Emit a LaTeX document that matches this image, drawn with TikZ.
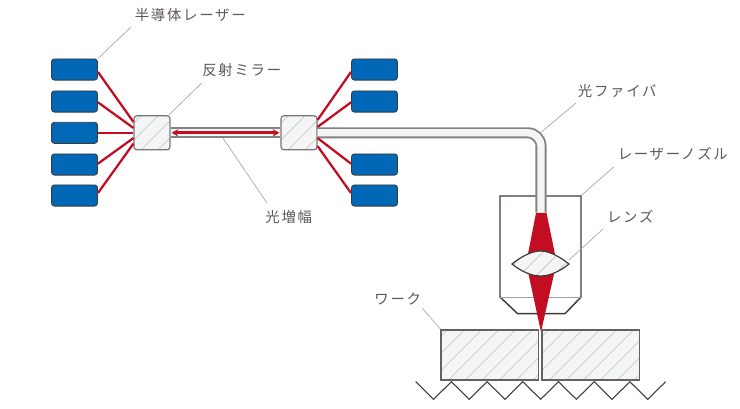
\documentclass[tikz,border=0pt]{standalone}
\usepackage{fontspec}
\setmainfont[LetterSpace=12]{Noto Sans CJK JP}
\usetikzlibrary{arrows.meta,calc}
\definecolor{laserred}{HTML}{C30D23}
\definecolor{diodeblue}{HTML}{0068B7}
\definecolor{edgedark}{HTML}{40393A}
\definecolor{edgegray}{HTML}{858280}
\definecolor{glassfill}{HTML}{F4F6F5}
\definecolor{hatchgray}{HTML}{CACAC8}
\definecolor{leadgray}{HTML}{A0A0A0}
\begin{document}
\begin{tikzpicture}[
  x=0.75pt, y=-0.75pt,
  diode/.style={rectangle, rounded corners=2.2pt, draw=edgedark, line width=0.7pt, fill=diodeblue, minimum width=34.5pt, minimum height=15.8pt, inner sep=0pt},
  hatched/.style={fill=glassfill, path picture={
    \foreach \k in {-180,-163,...,120}
      \draw[hatchgray, line width=0.55pt] ($(path picture bounding box.south west)+(\k,0)$) -- +(180,-180);
  }},
  mirrorbox/.style={rectangle, rounded corners=2.2pt, draw=edgedark!70, line width=0.9pt, hatched, minimum width=27pt, minimum height=25.5pt, inner sep=0pt},
  workpiece/.style={rectangle, draw=edgedark!80, line width=1.1pt, hatched, minimum width=73pt, minimum height=37.8pt, inner sep=0pt},
  fiber/.style={draw=edgegray, line width=1.4pt, double=glassfill, double distance=5.5pt},
  beam/.style={laserred, line width=1.7pt},
  leader/.style={leadgray, line width=0.45pt},
  callout/.style={font=\fontsize{10.8pt}{12pt}\selectfont, text=edgedark!85, inner sep=0pt}
]
\useasboundingbox (0,0) rectangle (740,408);

% Laser diodes, left bank
\node[diode] (laserA) at (74.5,69.5) {};
\node[diode] (laserB) at (74.5,101.5) {};
\node[diode] (laserC) at (74.5,132.8) {};
\node[diode] (laserD) at (74.5,164.5) {};
\node[diode] (laserE) at (74.5,195.5) {};

% Laser diodes, right bank
\node[diode] (laserF) at (374.5,69.5) {};
\node[diode] (laserG) at (374.5,101.5) {};
\node[diode] (laserH) at (374.5,164.5) {};
\node[diode] (laserI) at (374.5,195.5) {};

% Nozzle
\draw[edgedark, line width=1.1pt] (500,196) -- (500,297) -- (517.7,313.7) -- (565,313.7) -- (581,297) -- (581,196) -- cycle;
\draw[leadgray, line width=0.5pt] (500,297) -- (581,297);

% Mirrors and fibers
\coordinate (fiberEnd) at (541,212.5);
\node[mirrorbox] (mirrorL) at (152,132.8) {};
\node[mirrorbox] (mirrorR) at (299,132.8) {};
\draw[fiber] (mirrorL.east) -- (mirrorR.west);
\draw[fiber, rounded corners=10pt] (mirrorR.east) -- (541,132.8) -- (fiberEnd);

% Amplification arrow
\draw[laserred, line width=2pt, {Stealth[length=5pt,width=5.5pt]}-{Stealth[length=5pt,width=5.5pt]}] ($(mirrorL.east)+(1,0)$) -- ($(mirrorR.west)+(-1,0)$);

% Red lines from diodes to mirrors
\draw[beam] (laserA.-6) -- (133.5,122);
\draw[beam] (laserB.-2) -- (133.5,128);
\draw[beam] (laserC.east) -- (mirrorL.west);
\draw[beam] (laserD.2) -- (133.5,138);
\draw[beam] (laserE.6) -- (133.5,143.5);
\draw[beam] (laserF.186) -- (317.5,120);
\draw[beam] (laserG.182) -- (317.5,127);
\draw[beam] (laserH.178) -- (317.5,138);
\draw[beam] (laserI.174) -- (317.5,146);

% Beam through lens
\fill[laserred] (536,213) -- (546.5,213) -- (555,254) -- (528,254) -- cycle;
\fill[laserred] (528.5,274) -- (554,274) -- (541,332) -- cycle;
\draw[hatched, draw=edgedark, line width=0.9pt] (512,264) .. controls (522,256) and (532,251) .. (540.5,251) .. controls (549,251) and (559,256) .. (569,264) .. controls (559,272) and (549,276) .. (540.5,276) .. controls (532,276) and (522,272) .. (512,264) -- cycle;

% Workpieces and table
\node[workpiece] (workL) at (489.8,355) {};
\node[workpiece] (workR) at (590.8,355) {};
\draw[edgedark, line width=0.8pt] (415.7,381.7) \foreach \i in {1,...,7} { -- ++(17.85,17.6) -- ++(17.85,-17.6) };

% Labels
\node[callout] (lblLaser) at (190.3,15) {半導体レーザー};
\node[callout] (lblMirror) at (241.8,70) {反射ミラー};
\node[callout] (lblAmp) at (288.8,217) {光増幅};
\node[callout] (lblFiber) at (617.3,91) {光ファイバ};
\node[callout] (lblNozzle) at (672.8,154) {レーザーノズル};
\node[callout] (lblLens) at (630.3,217) {レンズ};
\node[callout] (lblWork) at (397.8,299) {ワーク};

% Leaders
\coordinate (leadLaser) at (131,27);
\coordinate (leadMirror) at (201.7,83);
\coordinate (leadAmp) at (266.7,202.7);
\coordinate (leadFiber) at (576,103);
\coordinate (leadNozzle) at (614,166.7);
\coordinate (leadLens) at (603,229);
\coordinate (leadWork) at (422.3,308.3);
\coordinate (tipAmp) at (223,138);
\coordinate (tipFiber) at (541.7,131.7);
\coordinate (tipNozzle) at (581,195.7);
\coordinate (tipLens) at (569,260);
\draw[leader] (laserA.north east) -- (leadLaser);
\draw[leader] ($(mirrorL.north east)+(-2,0)$) -- (leadMirror);
\draw[leader] (tipAmp) -- (leadAmp);
\draw[leader] (tipFiber) -- (leadFiber);
\draw[leader] (tipNozzle) -- (leadNozzle);
\draw[leader] (tipLens) -- (leadLens);
\draw[leader] (workL.north west) -- (leadWork);
\end{tikzpicture}
\end{document}
